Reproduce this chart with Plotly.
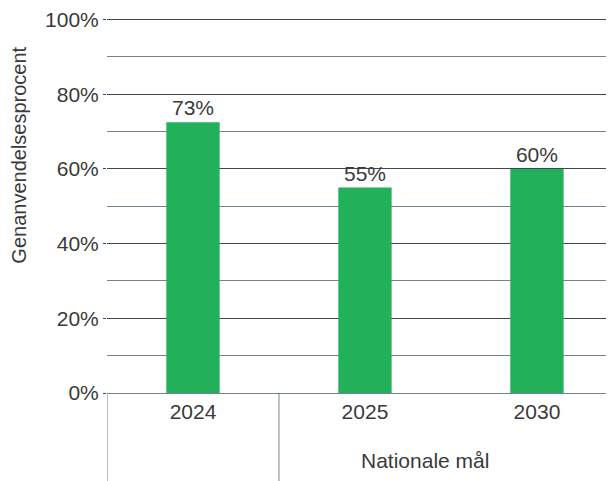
import plotly.graph_objects as go

years = ['2024', '2025', '2030']
rates = [72.5, 55, 60]
rate_labels = ['73%', '55%', '60%']
y_ticks = [0, 20, 40, 60, 80, 100]
y_tick_labels = ['0%', '20%', '40%', '60%', '80%', '100%']
group_label = 'Nationale mål'
y_title = 'Genanvendelsesprocent'

bar_color = '#22b05a'
text_color = '#3a3a3a'
major_grid = '#3b4854'
minor_grid = '#73838f'
font_family = 'Liberation Sans, Arial, sans-serif'
fsize = 21

fig = go.Figure()

fig.add_trace(go.Bar(
    x=years,
    y=rates,
    text=rate_labels,
    textposition='outside',
    textfont=dict(size=fsize, color=text_color),
    marker=dict(color=bar_color, line=dict(width=0)),
    width=0.31,
    cliponaxis=False,
    hoverinfo='skip'
))

# separators below the axis, between the groups
for xpos in [-0.5, 0.5]:
    fig.add_shape(
        type='line', xref='x', yref='paper',
        x0=xpos, x1=xpos, y0=0, y1=-0.26,
        line=dict(color=minor_grid, width=1)
    )

fig.add_annotation(
    x=1.349, xref='x', y=-0.179, yref='paper',
    text=group_label, showarrow=False,
    font=dict(size=fsize, color=text_color),
    yanchor='middle'
)

# y title as annotation so it sits where the original has it
fig.add_annotation(
    x=-0.174, xref='paper', y=0.635, yref='paper',
    text=y_title, showarrow=False, textangle=-90,
    font=dict(size=20, color=text_color),
    borderpad=0,
    xanchor='center', yanchor='middle'
)

# page body adds an 8px offset, so margins are trimmed to compensate
fig.update_layout(
    width=614,
    height=481,
    margin=dict(l=99, r=8, t=10, b=96),
    plot_bgcolor='white',
    paper_bgcolor='white',
    font=dict(family=font_family, color=text_color, size=fsize),
    showlegend=False,
    xaxis=dict(
        type='category',
        range=[-0.5, 2.448],
        automargin=False,
        showgrid=False,
        showline=True,
        linecolor=minor_grid,
        linewidth=1,
        ticks='',
        tickfont=dict(size=fsize, color=text_color),
        zeroline=False,
    ),
    yaxis=dict(
        range=[0, 100.4],
        automargin=False,
        tickvals=y_ticks,
        ticktext=y_tick_labels,
        ticklabeloverflow='allow',
        showgrid=True,
        gridcolor=major_grid,
        gridwidth=1,
        ticks='outside',
        ticklen=3,
        tickcolor=major_grid,
        tickfont=dict(size=fsize, color=text_color),
        showline=False,
        zeroline=False,
        minor=dict(dtick=10, showgrid=True, gridcolor=minor_grid, gridwidth=1, ticks=''),
    ),
)

fig.write_html("out.html")
